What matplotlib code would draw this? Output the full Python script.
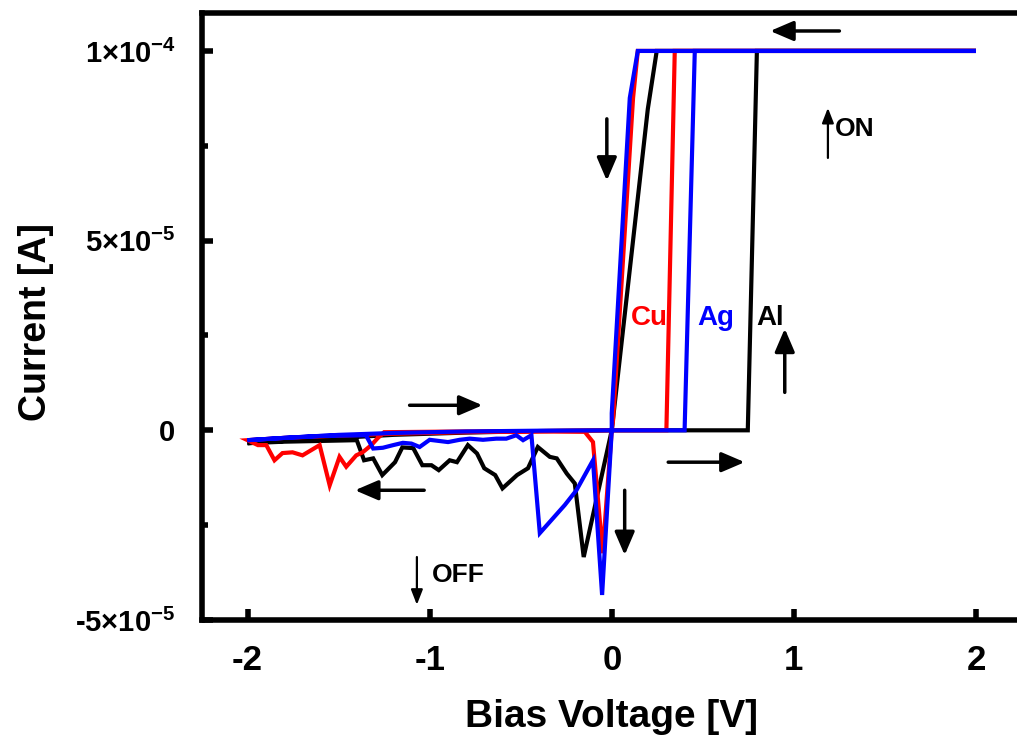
import matplotlib
matplotlib.use("Agg")
import matplotlib.pyplot as plt
from matplotlib import font_manager
from matplotlib.ticker import FixedLocator, FixedFormatter, MultipleLocator

# ---------------- data (current in units of 1e-5 A) ----------------
al_v = [0, 0.747, 0.797, 2.0, 0.247, 0.198, 0.0, -0.154, -0.203, -0.247, -0.302, -0.34,
        -0.406, -0.46, -0.52, -0.60, -0.64, -0.70, -0.74, -0.79, -0.85, -0.89, -0.95,
        -0.99, -1.04, -1.09, -1.15, -1.19, -1.26, -1.31, -1.36, -1.40, -1.6, -1.8, -2.0,
        -1.8, -1.5, -1.2, -0.8, -0.4, 0]
al_i = [0, 0, 10, 10, 10, 8.47, 0, -3.34, -1.40, -1.14, -0.74, -0.70,
        -0.44, -1.0, -1.18, -1.53, -1.18, -1.0, -0.61, -0.39, -0.84, -0.79, -1.05,
        -0.92, -0.92, -0.47, -0.45, -0.84, -1.18, -0.74, -0.79, -0.26, -0.28, -0.30, -0.34,
        -0.28, -0.20, -0.12, -0.06, -0.02, 0]

cu_v = [0, 0.30, 0.346, 2.0, 0.143, 0.117, 0.007, 0, -0.05, -0.103, -0.148, -0.4, -0.8,
        -1.25, -1.286, -1.320, -1.368, -1.403, -1.458, -1.495, -1.549, -1.604, -1.698,
        -1.753, -1.808, -1.852, -1.897, -1.943, -2.0, -1.8, -1.5, -1.2, -0.8, -0.4, 0]
cu_i = [0, 0, 10, 10, 10, 8.76, 0.26, 0, -3.24, -0.31, -0.04, -0.03, -0.03,
        -0.05, -0.21, -0.39, -0.58, -0.66, -0.96, -0.70, -1.45, -0.39, -0.66,
        -0.58, -0.60, -0.79, -0.39, -0.39, -0.26, -0.20, -0.14, -0.09, -0.05, -0.02, 0]

ag_v = [0, 0.40, 0.456, 2.0, 0.143, 0.099, 0.0, 0.0, -0.053, -0.103, -0.194, -0.258,
        -0.395, -0.441, -0.487, -0.524, -0.579, -0.634, -0.707, -0.780, -0.835, -0.899,
        -1.0, -1.055, -1.10, -1.147, -1.20, -1.257, -1.31, -1.35, -1.6, -1.8, -2.0,
        -1.8, -1.5, -1.2, -0.8, -0.4, 0]
ag_i = [0, 0, 10, 10, 10, 8.76, 0.45, 0, -4.34, -0.79, -1.58, -1.97,
        -2.71, -0.13, -0.26, -0.13, -0.22, -0.22, -0.25, -0.22, -0.25, -0.31,
        -0.25, -0.44, -0.35, -0.33, -0.39, -0.46, -0.48, -0.13, -0.15, -0.20, -0.26,
        -0.20, -0.12, -0.07, -0.03, -0.01, 0]

scale = 1e-5
x_ticks = [-2, -1, 0, 1, 2]
x_tick_labels = ["-2", "-1", "0", "1", "2"]
y_ticks = [-5e-5, 0, 5e-5, 1e-4]
y_tick_labels = ["-5×10$^{-5}$", "0", "5×10$^{-5}$", "1×10$^{-4}$"]

# ---------------- fonts ----------------
names = {f.name for f in font_manager.fontManager.ttflist}
narrow = "Liberation Sans Narrow" if "Liberation Sans Narrow" in names else "Liberation Sans"
plt.rcParams["font.family"] = ["Liberation Sans", "DejaVu Sans"]
plt.rcParams["font.weight"] = "bold"
plt.rcParams["mathtext.fontset"] = "custom"
plt.rcParams["mathtext.rm"] = "Liberation Sans:bold"
plt.rcParams["mathtext.bf"] = "Liberation Sans:bold"
plt.rcParams["mathtext.it"] = "Liberation Sans:bold"
plt.rcParams["mathtext.default"] = "rm"

fig = plt.figure(figsize=(10.17, 7.4), dpi=100)
ax = fig.add_axes([202 / 1017, 1 - 620 / 740, (1021.5 - 202) / 1017, (620 - 13) / 740])

lw = 3.0
ax.plot(al_v, [v * scale for v in al_i], color="black", lw=lw, solid_joinstyle="miter")
ax.plot(cu_v, [v * scale for v in cu_i], color="#ff0000", lw=lw, solid_joinstyle="miter")
ax.plot(ag_v, [v * scale for v in ag_i], color="#0000ff", lw=lw, solid_joinstyle="miter")

ax.set_xlim(-2.25, 2.25)
ax.set_ylim(-5e-5, 1.1e-4)

for s in ax.spines.values():
    s.set_linewidth(4)
ax.spines["right"].set_visible(False)

ax.xaxis.set_major_locator(FixedLocator(x_ticks))
ax.xaxis.set_major_formatter(FixedFormatter(x_tick_labels))
ax.yaxis.set_major_locator(FixedLocator(y_ticks))
ax.yaxis.set_major_formatter(FixedFormatter(y_tick_labels))
ax.yaxis.set_minor_locator(MultipleLocator(2.5e-5))
ax.tick_params(axis="both", which="major", direction="in", length=8, width=4)
ax.tick_params(axis="y", which="minor", direction="in", length=4, width=4)
ax.tick_params(axis="x", labelsize=25, pad=17)
ax.tick_params(axis="y", labelsize=21, pad=19)
for lab in ax.get_xticklabels():
    lab.set_family(narrow)
    lab.set_fontweight("bold")

ax.set_xlabel("Bias Voltage [V]", fontsize=28, fontweight="bold", family=narrow)
ax.set_ylabel("Current [A]", fontsize=27, fontweight="bold", family=narrow)
ax.xaxis.set_label_coords(0.5, -0.13)
ax.yaxis.set_label_coords(-0.181, 0.491)

def arrow(tail, head, big=True):
    if big:
        style = "-|>,head_length=14,head_width=6"
        w = 2.5
    else:
        style = "-|>,head_length=9,head_width=3.5"
        w = 1.6
    ax.annotate("", xy=head, xytext=tail,
                arrowprops=dict(arrowstyle=style, lw=w, color="black",
                                shrinkA=0, shrinkB=0, mutation_scale=1))

arrow((1.25, 1.0526e-4), (0.87, 1.0526e-4))
arrow((-0.027, 8.21e-5), (-0.027, 6.58e-5))
arrow((1.187, 7.18e-5), (1.187, 8.5e-5), big=False)
arrow((0.95, 1.0e-5), (0.95, 2.68e-5))
arrow((-1.11, 0.66e-5), (-0.71, 0.66e-5))
arrow((-1.03, -1.58e-5), (-1.41, -1.58e-5))
arrow((0.31, -0.84e-5), (0.73, -0.84e-5))
arrow((0.071, -1.58e-5), (0.071, -3.29e-5))
arrow((-1.07, -3.34e-5), (-1.07, -4.6e-5), big=False)

ax.text(1.225, 7.95e-5, "ON", fontsize=19, fontweight="bold", ha="left", va="center")
ax.text(-0.99, -3.82e-5, "OFF", fontsize=19, fontweight="bold", ha="left", va="center")
ax.text(0.209, 2.97e-5, "Cu", fontsize=20, fontweight="bold", color="#ff0000", ha="center", va="center")
ax.text(0.571, 2.95e-5, "Ag", fontsize=20, fontweight="bold", color="#0000ff", ha="center", va="center")
ax.text(0.868, 2.97e-5, "Al", fontsize=20, fontweight="bold", color="black", ha="center", va="center")

fig.savefig("out.png", dpi=100)
